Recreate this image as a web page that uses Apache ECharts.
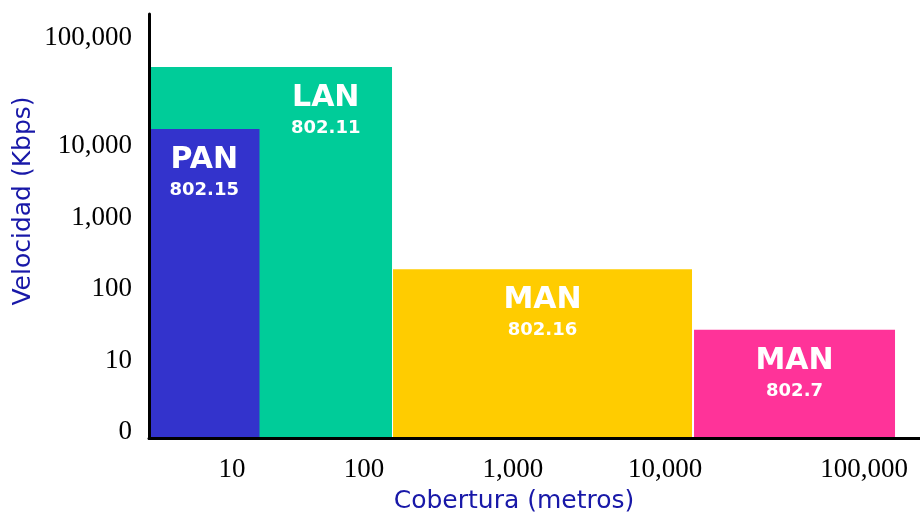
<!DOCTYPE html>
<html>
<head>
<meta charset="utf-8">
<script src="https://cdn.jsdelivr.net/npm/echarts@6/dist/echarts.min.js"></script>
<style>
  html, body { margin: 0; padding: 0; background: #ffffff; }
  #chart { width: 920px; height: 515px; }
</style>
</head>
<body>
<div id="chart"></div>
<script>
// ---- Data (schematic chart: x = coverage scale units, y = speed decade level) ----
const categories = ['PAN', 'LAN', 'MAN', 'MAN'];
const standards = ['802.15', '802.11', '802.16', '802.7'];
const coverageStart = [0, 0, 31.65, 70.69];
const coverageEnd = [14.33, 31.52, 70.43, 96.76];
const speedLevel = [4.24, 5.11, 2.28, 1.43];

const xTickLabels = ['10', '100', '1,000', '10,000', '100,000'];
const xTickValues = [10.77, 27.89, 47.21, 66.93, 92.74];
const yTickLabels = ['0', '10', '100', '1,000', '10,000', '100,000'];
const yTickValues = [0, 1, 2, 3, 4, 5.52];

// ---- Styles ----
const barColors = ['#3333cc', '#00cc99', '#ffcc00', '#ff3399'];
const titleColor = '#1818a8';
const Y_MIN = -0.09, Y_MAX = 5.85, X_MIN = 0, X_MAX = 100;

const seriesData = categories.map((c, i) => [coverageStart[i], coverageEnd[i], speedLevel[i], i]);

function labelLeft(i) {
  let left = coverageStart[i];
  for (let j = 0; j < categories.length; j++) {
    if (j !== i && coverageStart[j] <= coverageStart[i] && coverageEnd[j] < coverageEnd[i]) {
      left = Math.max(left, coverageEnd[j]);
    }
  }
  return left;
}

const chart = echarts.init(document.getElementById('chart'), null, { renderer: 'canvas' });

const tickFont = { color: '#000', fontFamily: 'Liberation Serif', fontWeight: 'normal', fontSize: 27 };

const option = {
  backgroundColor: '#ffffff',
  animation: false,
  grid: { left: 149, right: 0, top: 14, bottom: 76.5, containLabel: false },
  xAxis: {
    type: 'value', min: X_MIN, max: X_MAX, z: 10,
    axisLine: { show: true, onZero: false, lineStyle: { color: '#000', width: 3 } },
    axisTick: { show: false },
    splitLine: { show: false },
    axisLabel: Object.assign({
      customValues: xTickValues,
      formatter: (v) => xTickLabels[xTickValues.indexOf(v)] ?? '',
      margin: 18
    }, tickFont)
  },
  yAxis: {
    type: 'value', min: Y_MIN, max: Y_MAX, z: 10,
    axisLine: { show: true, onZero: false, lineStyle: { color: '#000', width: 3 } },
    axisTick: { show: false },
    splitLine: { show: false },
    axisLabel: Object.assign({
      customValues: yTickValues,
      formatter: (v) => yTickLabels[yTickValues.indexOf(v)] ?? '',
      margin: 17
    }, tickFont)
  },
  graphic: [
    {
      type: 'text', x: 23, y: 201, rotation: Math.PI / 2,
      style: { text: 'Velocidad (Kbps)', fill: titleColor, font: '25px "DejaVu Sans"', align: 'center', verticalAlign: 'middle' }
    },
    {
      type: 'text', x: 514, y: 501,
      style: { text: 'Cobertura (metros)', fill: titleColor, font: '25px "DejaVu Sans"', align: 'center', verticalAlign: 'middle' }
    }
  ],
  series: [{
    type: 'custom',
    data: seriesData,
    encode: { x: [0, 1], y: 2 },
    renderItem: function (params, api) {
      const i = api.value(3);
      const x0 = api.value(0), x1 = api.value(1), y = api.value(2);
      const p0 = api.coord([x0, y]);
      const p1 = api.coord([x1, Y_MIN]);
      const lx = (api.coord([labelLeft(i), y])[0] + p1[0]) / 2;
      const w = x1 - x0;
      return {
        type: 'group',
        children: [
          {
            type: 'rect', z2: Math.round(100 - w),
            shape: { x: p0[0], y: p0[1], width: p1[0] - p0[0], height: p1[1] - p0[1] },
            style: { fill: barColors[i] }
          },
          {
            type: 'text', z2: 200,
            style: { text: categories[i], x: lx, y: p0[1] + 31, fill: '#fff', font: 'bold 30px "DejaVu Sans"', align: 'center', verticalAlign: 'middle' }
          },
          {
            type: 'text', z2: 200,
            style: { text: standards[i], x: lx, y: p0[1] + 61, fill: '#fff', font: 'bold 18px "DejaVu Sans"', align: 'center', verticalAlign: 'middle' }
          }
        ]
      };
    }
  }]
};

chart.setOption(option);
</script>
</body>
</html>
